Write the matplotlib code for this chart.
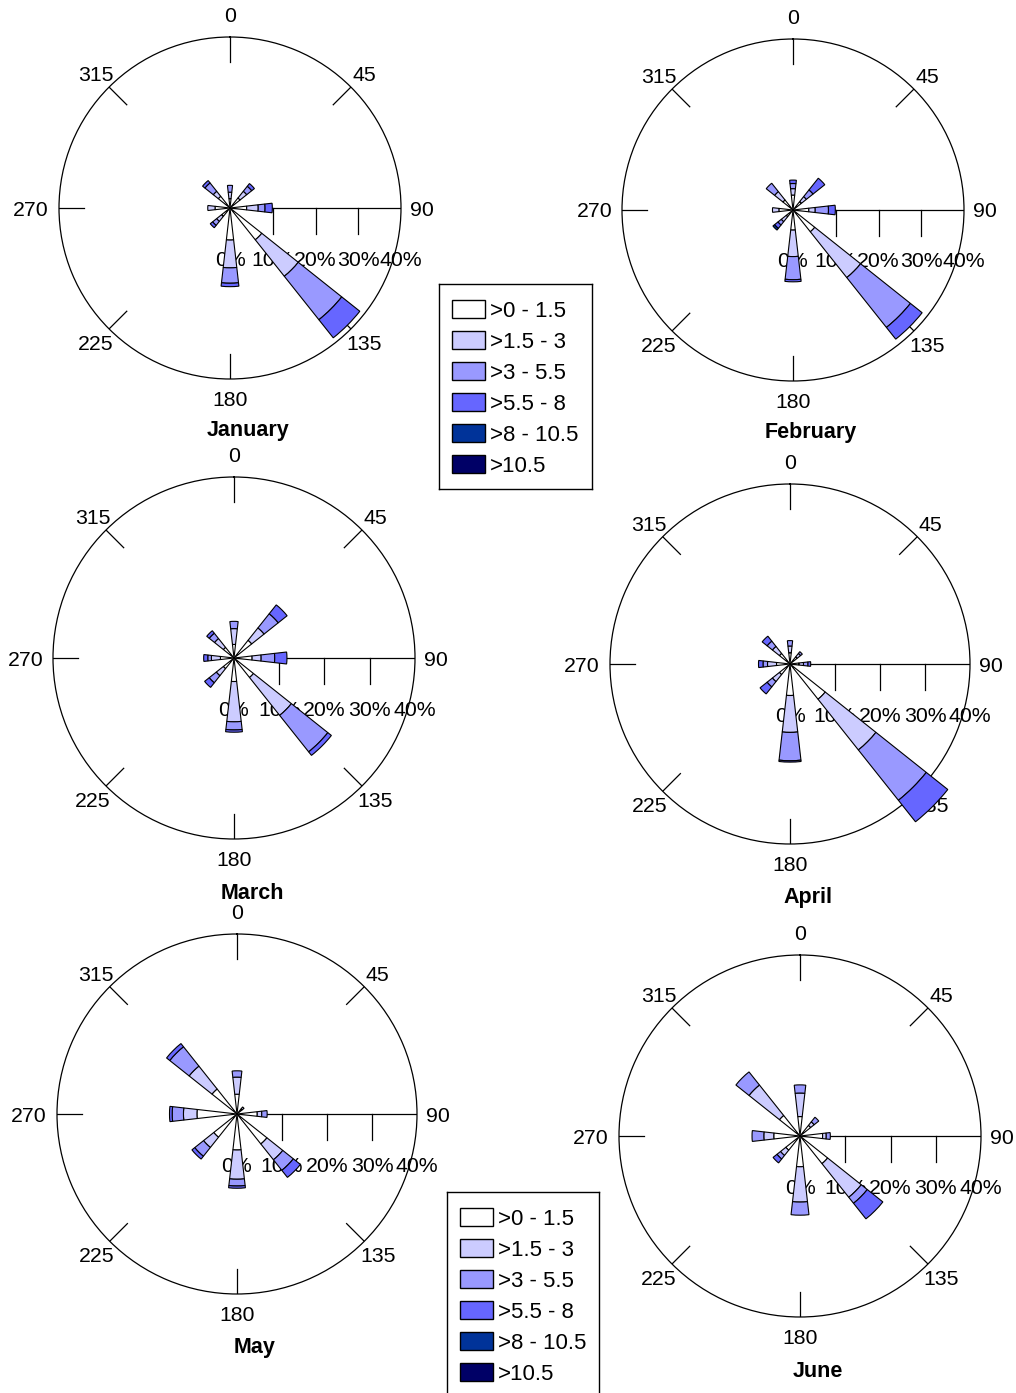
#!/usr/bin/env python3
"""Monthly wind roses (January - June) with speed classes."""

import numpy as np
import matplotlib
matplotlib.use('Agg')
import matplotlib.pyplot as plt
from matplotlib.patches import Rectangle
from matplotlib.transforms import offset_copy

plt.rcParams['font.family'] = ['Liberation Sans', 'DejaVu Sans']

FIG_W, FIG_H = 1016, 1393

# Wind directions (degrees from north) and speed classes
DIRECTIONS = [0, 45, 90, 135, 180, 225, 270, 315]
SPEED_BINS = ['>0 - 1.5', '>1.5 - 3', '>3 - 5.5', '>5.5 - 8', '>8 - 10.5', '>10.5']
BIN_COLORS = ['#FFFFFF', '#CCCCFF', '#9999FF', '#6666FF', '#003399', '#000066']
COMPASS_TICKS = [0, 45, 90, 135, 180, 225, 270, 315]
PCT_TICKS = [0, 10, 20, 30, 40]
MONTHS = ['January', 'February', 'March', 'April', 'May', 'June']

# Frequency (%) per direction (rows: N, NE, E, SE, S, SW, W, NW)
# and speed class (columns in SPEED_BINS order)
JAN = [
    [2.2, 1.5, 1.6, 0.0, 0.0, 0.0],
    [3.0, 2.0, 1.5, 0.8, 0.0, 0.0],
    [3.9, 2.7, 1.6, 1.7, 0.0, 0.0],
    [9.5, 10.9, 13.0, 5.4, 0.0, 0.0],
    [7.5, 6.5, 3.6, 0.8, 0.0, 0.0],
    [2.5, 1.5, 1.2, 0.7, 0.0, 0.0],
    [3.5, 1.7, 0.0, 0.0, 0.0, 0.0],
    [3.5, 1.5, 2.5, 0.7, 0.0, 0.0],
]
FEB = [
    [3.5, 1.5, 1.2, 0.8, 0.0, 0.0],
    [2.5, 1.5, 2.0, 3.5, 0.0, 0.0],
    [3.7, 1.5, 3.1, 1.6, 0.0, 0.0],
    [6.5, 13.7, 14.9, 3.5, 0.0, 0.0],
    [4.7, 6.2, 5.4, 0.5, 0.0, 0.0],
    [2.0, 1.5, 1.0, 1.0, 0.5, 0.0],
    [3.3, 1.5, 0.0, 0.0, 0.0, 0.0],
    [3.0, 2.5, 2.5, 0.0, 0.0, 0.0],
]
MAR = [
    [3.0, 3.5, 1.6, 0.0, 0.0, 0.0],
    [5.0, 3.5, 4.0, 2.5, 0.0, 0.0],
    [4.0, 2.0, 3.0, 2.7, 0.0, 0.0],
    [5.5, 10.7, 10.3, 1.0, 0.0, 0.0],
    [5.2, 8.9, 1.8, 0.5, 0.0, 0.0],
    [3.0, 2.0, 2.0, 1.3, 0.0, 0.0],
    [3.0, 2.0, 0.8, 0.9, 0.0, 0.0],
    [3.0, 2.5, 1.5, 0.7, 0.0, 0.0],
]
APR = [
    [2.5, 1.5, 1.2, 0.0, 0.0, 0.0],
    [2.0, 1.0, 0.5, 0.0, 0.0, 0.0],
    [2.0, 1.0, 1.0, 0.6, 0.0, 0.0],
    [10.0, 14.4, 14.3, 6.1, 0.0, 0.0],
    [7.0, 8.2, 6.3, 0.3, 0.0, 0.0],
    [3.0, 2.0, 1.5, 2.0, 0.0, 0.0],
    [3.0, 2.0, 1.0, 1.0, 0.0, 0.0],
    [3.0, 2.0, 1.5, 1.4, 0.0, 0.0],
]
MAY = [
    [4.4, 3.8, 1.4, 0.0, 0.0, 0.0],
    [1.5, 0.5, 0.0, 0.0, 0.0, 0.0],
    [4.5, 1.0, 1.2, 0.0, 0.0, 0.0],
    [8.5, 4.5, 3.0, 2.0, 0.0, 0.0],
    [8.0, 6.5, 1.5, 0.5, 0.0, 0.0],
    [6.6, 2.9, 2.5, 0.8, 0.0, 0.0],
    [8.9, 3.0, 2.5, 0.6, 0.0, 0.0],
    [7.1, 6.5, 5.5, 0.9, 0.0, 0.0],
]
JUN = [
    [4.3, 5.2, 1.8, 0.0, 0.0, 0.0],
    [3.0, 1.0, 1.3, 0.0, 0.0, 0.0],
    [5.0, 0.8, 0.9, 0.0, 0.0, 0.0],
    [7.8, 9.5, 1.7, 4.4, 0.0, 0.0],
    [6.8, 7.8, 2.9, 0.0, 0.0, 0.0],
    [4.0, 1.5, 1.0, 1.1, 0.0, 0.0],
    [5.8, 2.2, 2.6, 0.0, 0.0, 0.0],
    [5.8, 8.6, 3.7, 0.0, 0.0, 0.0],
]
MONTH_DATA = [JAN, FEB, MAR, APR, MAY, JUN]

# Panel placement in pixels: centre x, centre y (from top), radius of the 40% ring
PANELS = [
    (230, 208, 171),
    (793, 210, 171),
    (234, 658, 181),
    (790, 664, 180),
    (237, 1114, 180),
    (800, 1136, 181),
]
# Legend boxes in pixels: left, top, width, height
LEGENDS = [
    (439, 284, 153, 205),
    (447, 1192, 152, 206),
]

RMAX = 40
PETAL_WIDTH = np.radians(13)
FONT = 15.3


def draw_rose(fig, cx, cy, r_px, freq, month):
    ax = fig.add_axes([(cx - r_px) / FIG_W, (FIG_H - cy - r_px) / FIG_H,
                       2 * r_px / FIG_W, 2 * r_px / FIG_H], projection='polar')
    ax.set_theta_zero_location('N')
    ax.set_theta_direction(-1)
    ax.set_ylim(0, RMAX)
    ax.set_xticks([])
    ax.set_yticks([])
    ax.grid(False)
    ax.set_facecolor('none')
    ax.spines['polar'].set_linewidth(0.9)

    ppp = r_px / RMAX  # pixels per percent
    tick_len = 25 / ppp

    # compass ticks on the inner side of the ring
    for a in COMPASS_TICKS:
        if a == 90:
            continue
        t = np.radians(a)
        ax.plot([t, t], [RMAX - tick_len, RMAX], color='black', lw=0.9, zorder=2)

    # radial scale along east with ticks hanging below
    ax.plot([np.pi / 2, np.pi / 2], [0, RMAX], color='black', lw=0.9, zorder=2)
    drop = 26 / ppp
    for p in PCT_TICKS[1:-1]:
        ax.plot([np.pi / 2, np.pi / 2 + np.arctan(drop / p)],
                [p, np.hypot(p, drop)], color='black', lw=0.9, zorder=2)
    below = offset_copy(ax.transData, fig=fig, x=0, y=-50, units='dots')
    for p in PCT_TICKS:
        ax.text(np.pi / 2, p, f'{p}%', transform=below, ha='center',
                va='center_baseline', fontsize=FONT, zorder=1, clip_on=False)

    # compass labels
    for a in COMPASS_TICKS:
        t = np.radians(a)
        if a == 0:
            ax.text(t, RMAX + 15 / ppp, '0', ha='center', va='baseline', fontsize=FONT)
        elif a == 90:
            ax.text(t, RMAX + 9 / ppp, '90', ha='left', va='center_baseline', fontsize=FONT)
        elif a == 180:
            ax.text(t, RMAX + 12 / ppp, '180', ha='center', va='top', fontsize=FONT)
        elif a == 270:
            ax.text(t, RMAX + 10 / ppp, '270', ha='right', va='center_baseline', fontsize=FONT)
        else:
            ax.text(t, RMAX + 19 / ppp, str(a), ha='center', va='center_baseline',
                    fontsize=FONT, zorder=1)

    # stacked petals
    theta = np.radians(DIRECTIONS)
    freq = np.array(freq)
    bottom = np.zeros(len(DIRECTIONS))
    for j, color in enumerate(BIN_COLORS):
        h = freq[:, j]
        m = h > 0
        if m.any():
            ax.bar(theta[m], h[m], width=PETAL_WIDTH, bottom=bottom[m], color=color,
                   edgecolor='black', linewidth=0.8, zorder=3, clip_on=False)
        bottom += h

    fig.text((cx + 18) / FIG_W, 1 - (cy + r_px * 1.285) / FIG_H, month,
             ha='center', va='center_baseline', fontsize=15.5, fontweight='bold')


def draw_legend(fig, left, top, width, height):
    ax = fig.add_axes([left / FIG_W, (FIG_H - top - height) / FIG_H,
                       width / FIG_W, height / FIG_H])
    ax.set_xlim(0, width)
    ax.set_ylim(height, 0)
    ax.set_xticks([])
    ax.set_yticks([])
    for s in ax.spines.values():
        s.set_linewidth(1.0)
    for i, (label, color) in enumerate(zip(SPEED_BINS, BIN_COLORS)):
        y = 25 + i * 31
        ax.add_patch(Rectangle((13, y - 9), 33, 18, facecolor=color,
                               edgecolor='black', linewidth=1.0))
        ax.text(51, y, label, ha='left', va='center_baseline', fontsize=16)


def main():
    fig = plt.figure(figsize=(FIG_W / 100, FIG_H / 100), dpi=100)
    for (cx, cy, r), freq, month in zip(PANELS, MONTH_DATA, MONTHS):
        draw_rose(fig, cx, cy, r, freq, month)
    for box in LEGENDS:
        draw_legend(fig, *box)
    fig.savefig('out.png', dpi=100, facecolor='white')


if __name__ == '__main__':
    main()
